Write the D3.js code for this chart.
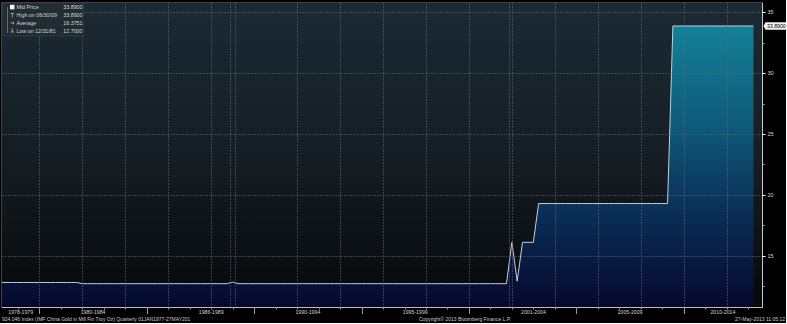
<!DOCTYPE html>
<html>
<head>
<meta charset="utf-8">
<script src="https://cdn.jsdelivr.net/npm/d3@7/dist/d3.min.js"></script>
<style>
  body { margin: 0; background: #fff; }
  svg { display: block; font-family: "Liberation Sans", Arial, sans-serif; }
</style>
</head>
<body>
<svg width="787" height="324"></svg>
<script>
// quarterly values, 1977Q1 .. 2013Q1 (million fine troy oz)
var goldValues = [
  12.80, 12.80, 12.80, 12.80,   // 1977
  12.80, 12.80, 12.80, 12.80,   // 1978
  12.80, 12.80, 12.80, 12.80,   // 1979
  12.80, 12.80, 12.80, 12.80,   // 1980
  12.80, 12.80, 12.80, 12.70,   // 1981
  12.70, 12.70, 12.70, 12.70,   // 1982
  12.70, 12.70, 12.70, 12.70,   // 1983
  12.70, 12.70, 12.70, 12.70,   // 1984
  12.70, 12.70, 12.70, 12.70,   // 1985
  12.70, 12.70, 12.70, 12.70,   // 1986
  12.70, 12.70, 12.70, 12.70,   // 1987
  12.70, 12.70, 12.70, 12.83,   // 1988
  12.70, 12.70, 12.70, 12.70,   // 1989
  12.70, 12.70, 12.70, 12.70,   // 1990
  12.70, 12.70, 12.70, 12.70,   // 1991
  12.70, 12.70, 12.70, 12.70,   // 1992
  12.70, 12.70, 12.70, 12.70,   // 1993
  12.70, 12.70, 12.70, 12.70,   // 1994
  12.70, 12.70, 12.70, 12.70,   // 1995
  12.70, 12.70, 12.70, 12.70,   // 1996
  12.70, 12.70, 12.70, 12.70,   // 1997
  12.70, 12.70, 12.70, 12.70,   // 1998
  12.70, 12.70, 12.70, 12.70,   // 1999
  12.70, 12.70, 12.70, 12.70,   // 2000
  12.70, 12.70, 12.70, 16.10,   // 2001
  12.90, 16.10, 16.10, 16.10,   // 2002
  19.29, 19.29, 19.29, 19.29,   // 2003
  19.29, 19.29, 19.29, 19.29,   // 2004
  19.29, 19.29, 19.29, 19.29,   // 2005
  19.29, 19.29, 19.29, 19.29,   // 2006
  19.29, 19.29, 19.29, 19.29,   // 2007
  19.29, 19.29, 19.29, 19.29,   // 2008
  19.29, 33.89, 33.89, 33.89,   // 2009
  33.89, 33.89, 33.89, 33.89,   // 2010
  33.89, 33.89, 33.89, 33.89,   // 2011
  33.89, 33.89, 33.89, 33.89,   // 2012
  33.89                         // 2013
];
// quarter end dates
var goldDates = goldValues.map(function(v, i) { return new Date(1977, 3 * i + 3, 0); });

var yTicks = [15, 20, 25, 30, 35];
var yMinorTicks = [12.5, 17.5, 22.5, 27.5, 32.5];
var gridYears = [1980, 1982, 1984, 1986, 1988, 1992, 1994, 1996, 1998, 2000, 2002, 2004, 2006, 2008, 2010, 2012];
var markerDates = ["1988-11-15", "1989-02-08", "2001-11-20"];
var groupLabels = [
  { label: "1978-1979", from: 1978, to: 1979 },
  { label: "1980-1984", from: 1980, to: 1984 },
  { label: "1986-1989", from: 1986, to: 1989 },
  { label: "1990-1994", from: 1990, to: 1994 },
  { label: "1995-1999", from: 1995, to: 1999 },
  { label: "2001-2004", from: 2001, to: 2004 },
  { label: "2005-2009", from: 2005, to: 2009 },
  { label: "2010-2014", from: 2010, to: 2014 }
];
var majorTickYears = [1980, 1985, 1990, 1995, 2000, 2005, 2010];
var legendRows = [
  { name: "Mid Price", value: "33.8900" },
  { name: "High on 06/30/09", value: "33.8900" },
  { name: "Average", value: "16.3751" },
  { name: "Low on 12/31/81", value: "12.7000" }
];
var lastValue = 33.89;

var svg = d3.select("svg");
var plot = { left: 2, top: 3, right: 762, bottom: 307 };

var x = d3.scaleTime()
    .domain([new Date(1978, 3, 6), new Date(2013, 7, 23)])
    .range([plot.left, plot.right]);
var y = d3.scaleLinear()
    .domain([10.70, 35.78])
    .range([plot.bottom + 1, plot.top]);

var defs = svg.append("defs");
var bg = defs.append("linearGradient").attr("id", "bg")
    .attr("gradientUnits", "userSpaceOnUse")
    .attr("x1", 0).attr("x2", 0).attr("y1", plot.top).attr("y2", plot.bottom);
bg.append("stop").attr("offset", 0).attr("stop-color", "#1c2a34");
bg.append("stop").attr("offset", 0.55).attr("stop-color", "#141c22");
bg.append("stop").attr("offset", 1).attr("stop-color", "#06080a");

var fill = defs.append("linearGradient").attr("id", "fill")
    .attr("gradientUnits", "userSpaceOnUse")
    .attr("x1", 0).attr("x2", 0).attr("y1", plot.top).attr("y2", plot.bottom);
fill.append("stop").attr("offset", 0).attr("stop-color", "#158a9e");
fill.append("stop").attr("offset", 0.4).attr("stop-color", "#0e5a7a");
fill.append("stop").attr("offset", 0.7).attr("stop-color", "#0a2d55");
fill.append("stop").attr("offset", 1).attr("stop-color", "#05082e");

defs.append("clipPath").attr("id", "clip")
  .append("rect")
    .attr("x", plot.left).attr("y", plot.top)
    .attr("width", plot.right - plot.left).attr("height", plot.bottom - plot.top);

// outer black frame
svg.append("rect").attr("width", 786).attr("height", 323).attr("fill", "#000");

svg.append("rect")
    .attr("x", plot.left).attr("y", plot.top)
    .attr("width", plot.right - plot.left).attr("height", plot.bottom - plot.top)
    .attr("fill", "url(#bg)");

var data = goldDates.map(function(d, i) { return { date: d, value: goldValues[i] }; });

var area = d3.area()
    .x(function(d) { return x(d.date); })
    .y0(plot.bottom)
    .y1(function(d) { return y(d.value); });
var line = d3.line()
    .x(function(d) { return x(d.date); })
    .y(function(d) { return y(d.value); });

var g = svg.append("g").attr("clip-path", "url(#clip)");
g.append("path").datum(data).attr("d", area).attr("fill", "url(#fill)");

// grid
var grid = svg.append("g").attr("stroke", "#5c6a74").attr("stroke-opacity", 0.55)
    .attr("stroke-dasharray", "2,1").attr("shape-rendering", "crispEdges");
grid.selectAll("line.v")
    .data(gridYears.map(function(yr) { return new Date(yr, 0, 1); })
      .concat(markerDates.map(function(s) { return new Date(s); })))
  .enter().append("line")
    .attr("x1", function(d) { return Math.round(x(d)) + 0.5; })
    .attr("x2", function(d) { return Math.round(x(d)) + 0.5; })
    .attr("y1", plot.top).attr("y2", plot.bottom);
grid.selectAll("line.h")
    .data(yTicks)
  .enter().append("line")
    .attr("x1", plot.left).attr("x2", plot.right)
    .attr("y1", function(d) { return Math.round(y(d)) + 0.5; })
    .attr("y2", function(d) { return Math.round(y(d)) + 0.5; });

g.append("path").datum(data).attr("d", line)
    .attr("fill", "none").attr("stroke", "#c9ced2").attr("stroke-width", 1);

// plot frame
svg.append("rect")
    .attr("x", plot.left - 0.5).attr("y", plot.top - 0.5)
    .attr("width", plot.right - plot.left + 1).attr("height", plot.bottom - plot.top + 1)
    .attr("fill", "none").attr("stroke", "#3a434a");

// right axis
var yAxis = svg.append("g").attr("transform", "translate(" + (plot.right + 0.5) + ",0)");
yAxis.append("line").attr("y1", plot.top).attr("y2", plot.bottom + 1)
    .attr("stroke", "#c8c8c8");
yAxis.selectAll("line.major").data(yTicks).enter().append("line")
    .attr("x1", 0).attr("x2", 3)
    .attr("y1", function(d) { return Math.round(y(d)) + 0.5; })
    .attr("y2", function(d) { return Math.round(y(d)) + 0.5; })
    .attr("stroke", "#fff");
yAxis.selectAll("line.minor").data(yMinorTicks).enter().append("line")
    .attr("x1", 0).attr("x2", 2)
    .attr("y1", function(d) { return Math.round(y(d)) + 0.5; })
    .attr("y2", function(d) { return Math.round(y(d)) + 0.5; })
    .attr("stroke", "#aaa");
yAxis.selectAll("text").data(yTicks).enter().append("text")
    .attr("x", 5).attr("y", function(d) { return y(d); })
    .attr("dy", "0.35em")
    .attr("font-size", 5.5).attr("fill", "#d8d8d8")
    .text(function(d) { return d; });

// last value tag
var tag = svg.append("g").attr("transform", "translate(" + (plot.right + 1.5) + "," + y(lastValue) + ")");
tag.append("path")
    .attr("d", "M0,0 L2,-3.8 L24,-3.8 L24,3.8 L2,3.8 Z")
    .attr("fill", "#f2f2f2");
tag.append("text").attr("x", 3.5).attr("dy", "0.35em")
    .attr("font-size", 5.2).attr("fill", "#000")
    .text(d3.format(".4f")(lastValue));

// bottom axis
var xAxis = svg.append("g");
xAxis.append("line").attr("x1", plot.left).attr("x2", plot.right + 1)
    .attr("y1", plot.bottom + 0.5).attr("y2", plot.bottom + 0.5)
    .attr("stroke", "#bdbdbd");
var years = d3.range(1979, 2014);
xAxis.selectAll("line.tick").data(years).enter().append("line")
    .attr("x1", function(d) { return Math.round(x(new Date(d, 0, 1))) + 0.5; })
    .attr("x2", function(d) { return Math.round(x(new Date(d, 0, 1))) + 0.5; })
    .attr("y1", plot.bottom)
    .attr("y2", function(d) { return majorTickYears.indexOf(d) >= 0 ? plot.bottom + 7 : plot.bottom + 2.5; })
    .attr("stroke", "#9a9a9a");
xAxis.selectAll("text").data(groupLabels).enter().append("text")
    .attr("x", function(d) {
      var a = Math.max(x(new Date(d.from, 0, 1)), plot.left);
      var b = Math.min(x(new Date(d.to + 1, 0, 1)), plot.right);
      return (a + b) / 2;
    })
    .attr("y", 313.5)
    .attr("text-anchor", "middle")
    .attr("font-size", 5.2).attr("fill", "#d0d0d0")
    .text(function(d) { return d.label; });

// footer
var foot = svg.append("g").attr("font-size", 5).attr("fill", "#c8c8c8");
foot.append("text").attr("x", 2).attr("y", 320.5)
    .text("924.046 Index (IMF China Gold in Mill Fin Troy Oz)  Quarterly 01JAN1977-27MAY201");
foot.append("text").attr("x", 419).attr("y", 320.5)
    .text("Copyright\u00a9 2013 Bloomberg Finance L.P.");
foot.append("text").attr("x", 785).attr("y", 320.5).attr("text-anchor", "end")
    .text("27-May-2013 11:05:12");

// legend
var legend = svg.append("g").attr("transform", "translate(3,3)");
legend.append("rect").attr("width", 80.5).attr("height", 33)
    .attr("fill", "#222c33").attr("fill-opacity", 0.9)
    .attr("stroke", "#39434a").attr("stroke-width", 0.6);
legend.append("line").attr("x1", 4.5).attr("x2", 4.5).attr("y1", 4).attr("y2", 30)
    .attr("stroke", "#999").attr("stroke-width", 0.6);
legend.append("rect").attr("x", 7).attr("y", 1.8).attr("width", 4.5).attr("height", 4.5)
    .attr("fill", "#fff");
var icons = legend.append("g").attr("stroke", "#ddd").attr("stroke-width", 0.6).attr("fill", "none");
icons.append("path").attr("d", "M7.5,10.5 L11,10.5 M9.25,10.5 L9.25,14.5");
icons.append("path").attr("d", "M7.5,20 L11,20 M9.8,18.8 L11,20 L9.8,21.2");
icons.append("path").attr("d", "M9.25,25 L9.25,29 M7.5,29 L11,29");
var rows = legend.selectAll("g.row").data(legendRows).enter().append("g")
    .attr("transform", function(d, i) { return "translate(0," + (6 + i * 8) + ")"; })
    .attr("font-size", 5.3).attr("fill", "#d6d6d6");
rows.append("text").attr("x", 13.5).text(function(d) { return d.name; });
rows.append("text").attr("x", 79.5).attr("text-anchor", "end").text(function(d) { return d.value; });
</script>
</body>
</html>
